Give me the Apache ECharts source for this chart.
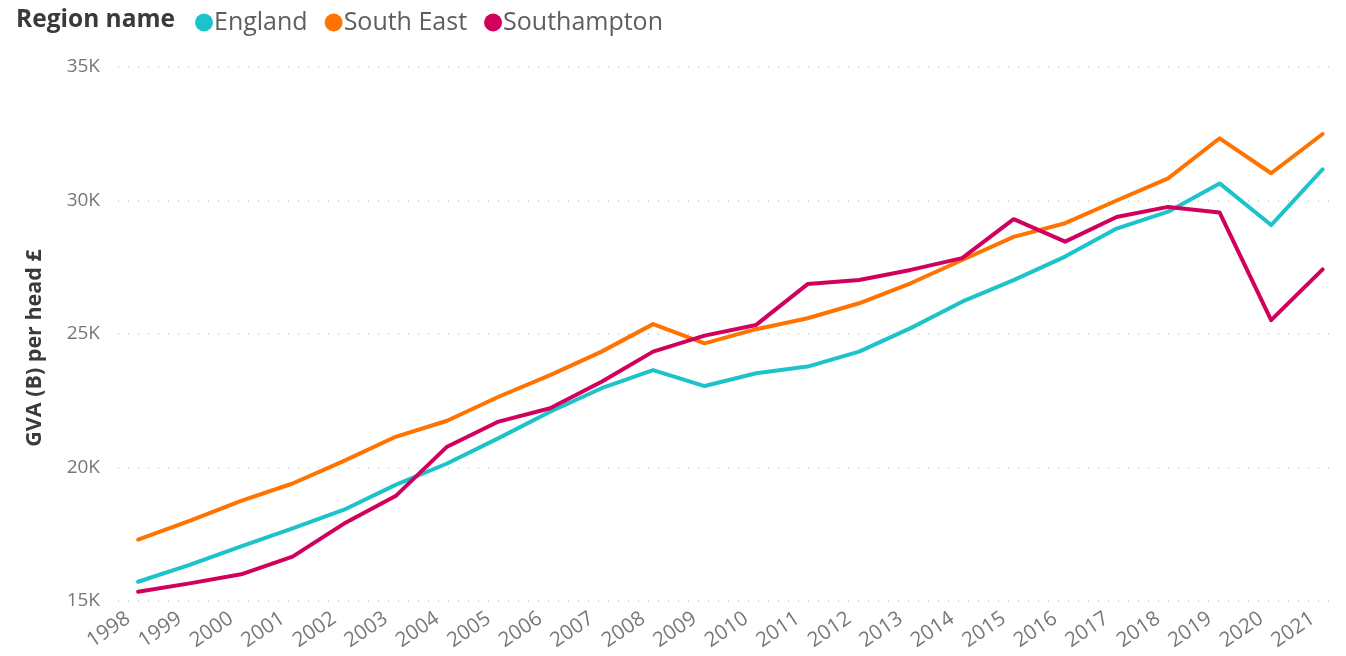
<!DOCTYPE html>
<html>
<head>
<meta charset="utf-8">
<script src="https://cdn.jsdelivr.net/npm/echarts@6/dist/echarts.min.js"></script>
<style>
  html, body { margin: 0; padding: 0; background: #fff; }
  #chart { width: 1346px; height: 656px; }
</style>
</head>
<body>
<div id="chart"></div>
<script>
// GVA (B) per head, £, by region and year
const years = ['1998','1999','2000','2001','2002','2003','2004','2005','2006','2007','2008','2009',
               '2010','2011','2012','2013','2014','2015','2016','2017','2018','2019','2020','2021'];

const england = [15720, 16350, 17050, 17720, 18420, 19350, 20150, 21100, 22090, 22970, 23650, 23050,
                 23530, 23780, 24340, 25220, 26210, 27020, 27900, 28950, 29580, 30640, 29080, 31170];

const southEast = [17300, 18000, 18750, 19400, 20250, 21150, 21750, 22650, 23460, 24340, 25370, 24650,
                   25180, 25590, 26150, 26900, 27770, 28640, 29150, 30000, 30830, 32330, 31020, 32490];

const southampton = [15350, 15660, 16000, 16660, 17900, 18930, 20780, 21720, 22220, 23210, 24340, 24940,
                     25340, 26870, 27020, 27400, 27840, 29300, 28460, 29380, 29760, 29550, 25520, 27420];

const yTicks = [15000, 20000, 25000, 30000, 35000];

const seriesNames = ['England', 'South East', 'Southampton'];
const seriesColors = ['#1CC3CA', '#FF7300', '#D1005D'];
const seriesData = [england, southEast, southampton];

const idx = years.map((_, i) => i);
const chart = echarts.init(document.getElementById('chart'), null, { renderer: 'canvas' });

chart.setOption({
  animation: false,
  backgroundColor: '#ffffff',
  textStyle: { fontFamily: 'Open Sans' },
  title: {
    text: 'Region name',
    left: 11, top: 3,
    textStyle: { fontFamily: 'Open Sans', fontSize: 24.5, fontWeight: 'bold', color: '#3b3a39' }
  },
  legend: {
    left: 190, top: 5,
    icon: 'circle',
    itemWidth: 18, itemHeight: 18,
    itemGap: 17,
    textStyle: { fontFamily: 'Open Sans', fontSize: 25, color: '#605E5C', padding: [0, 0, 0, -4] },
    data: seriesNames
  },
  grid: { left: 118, right: 11, top: 67, bottom: 55, containLabel: false },
  xAxis: {
    type: 'value',
    min: -0.39, max: 23.24,
    axisLine: { show: false },
    axisTick: { show: false, customValues: idx },
    splitLine: { show: false },
    axisLabel: {
      customValues: idx,
      rotate: 34,
      margin: 9,
      fontSize: 20.5,
      padding: [0, 12, 0, 0],
      color: '#777777',
      formatter: v => years[Math.round(v)]
    }
  },
  yAxis: {
    type: 'value',
    min: 15000, max: 35000, interval: 5000,
    name: 'GVA (B) per head £',
    nameLocation: 'middle',
    nameGap: 72,
    nameTextStyle: {
      fontFamily: 'Open Sans', fontSize: 21.5, fontWeight: 'bold', color: '#3b3a39',
      padding: [0, 28, 0, 0]
    },
    axisLine: { show: false },
    axisTick: { show: false },
    axisLabel: {
      fontSize: 19, color: '#777777', margin: 18,
      formatter: v => (yTicks.includes(v) ? (v / 1000) + 'K' : '')
    },
    splitLine: { show: true, lineStyle: { color: '#C8C8C8', type: [1, 9], width: 1.5 } }
  },
  series: seriesNames.map((name, s) => ({
    name,
    type: 'line',
    data: seriesData[s].map((v, i) => [i, v]),
    symbol: 'none',
    color: seriesColors[s],
    lineStyle: { width: 4, color: seriesColors[s], join: 'round', cap: 'round' }
  }))
});
</script>
</body>
</html>
